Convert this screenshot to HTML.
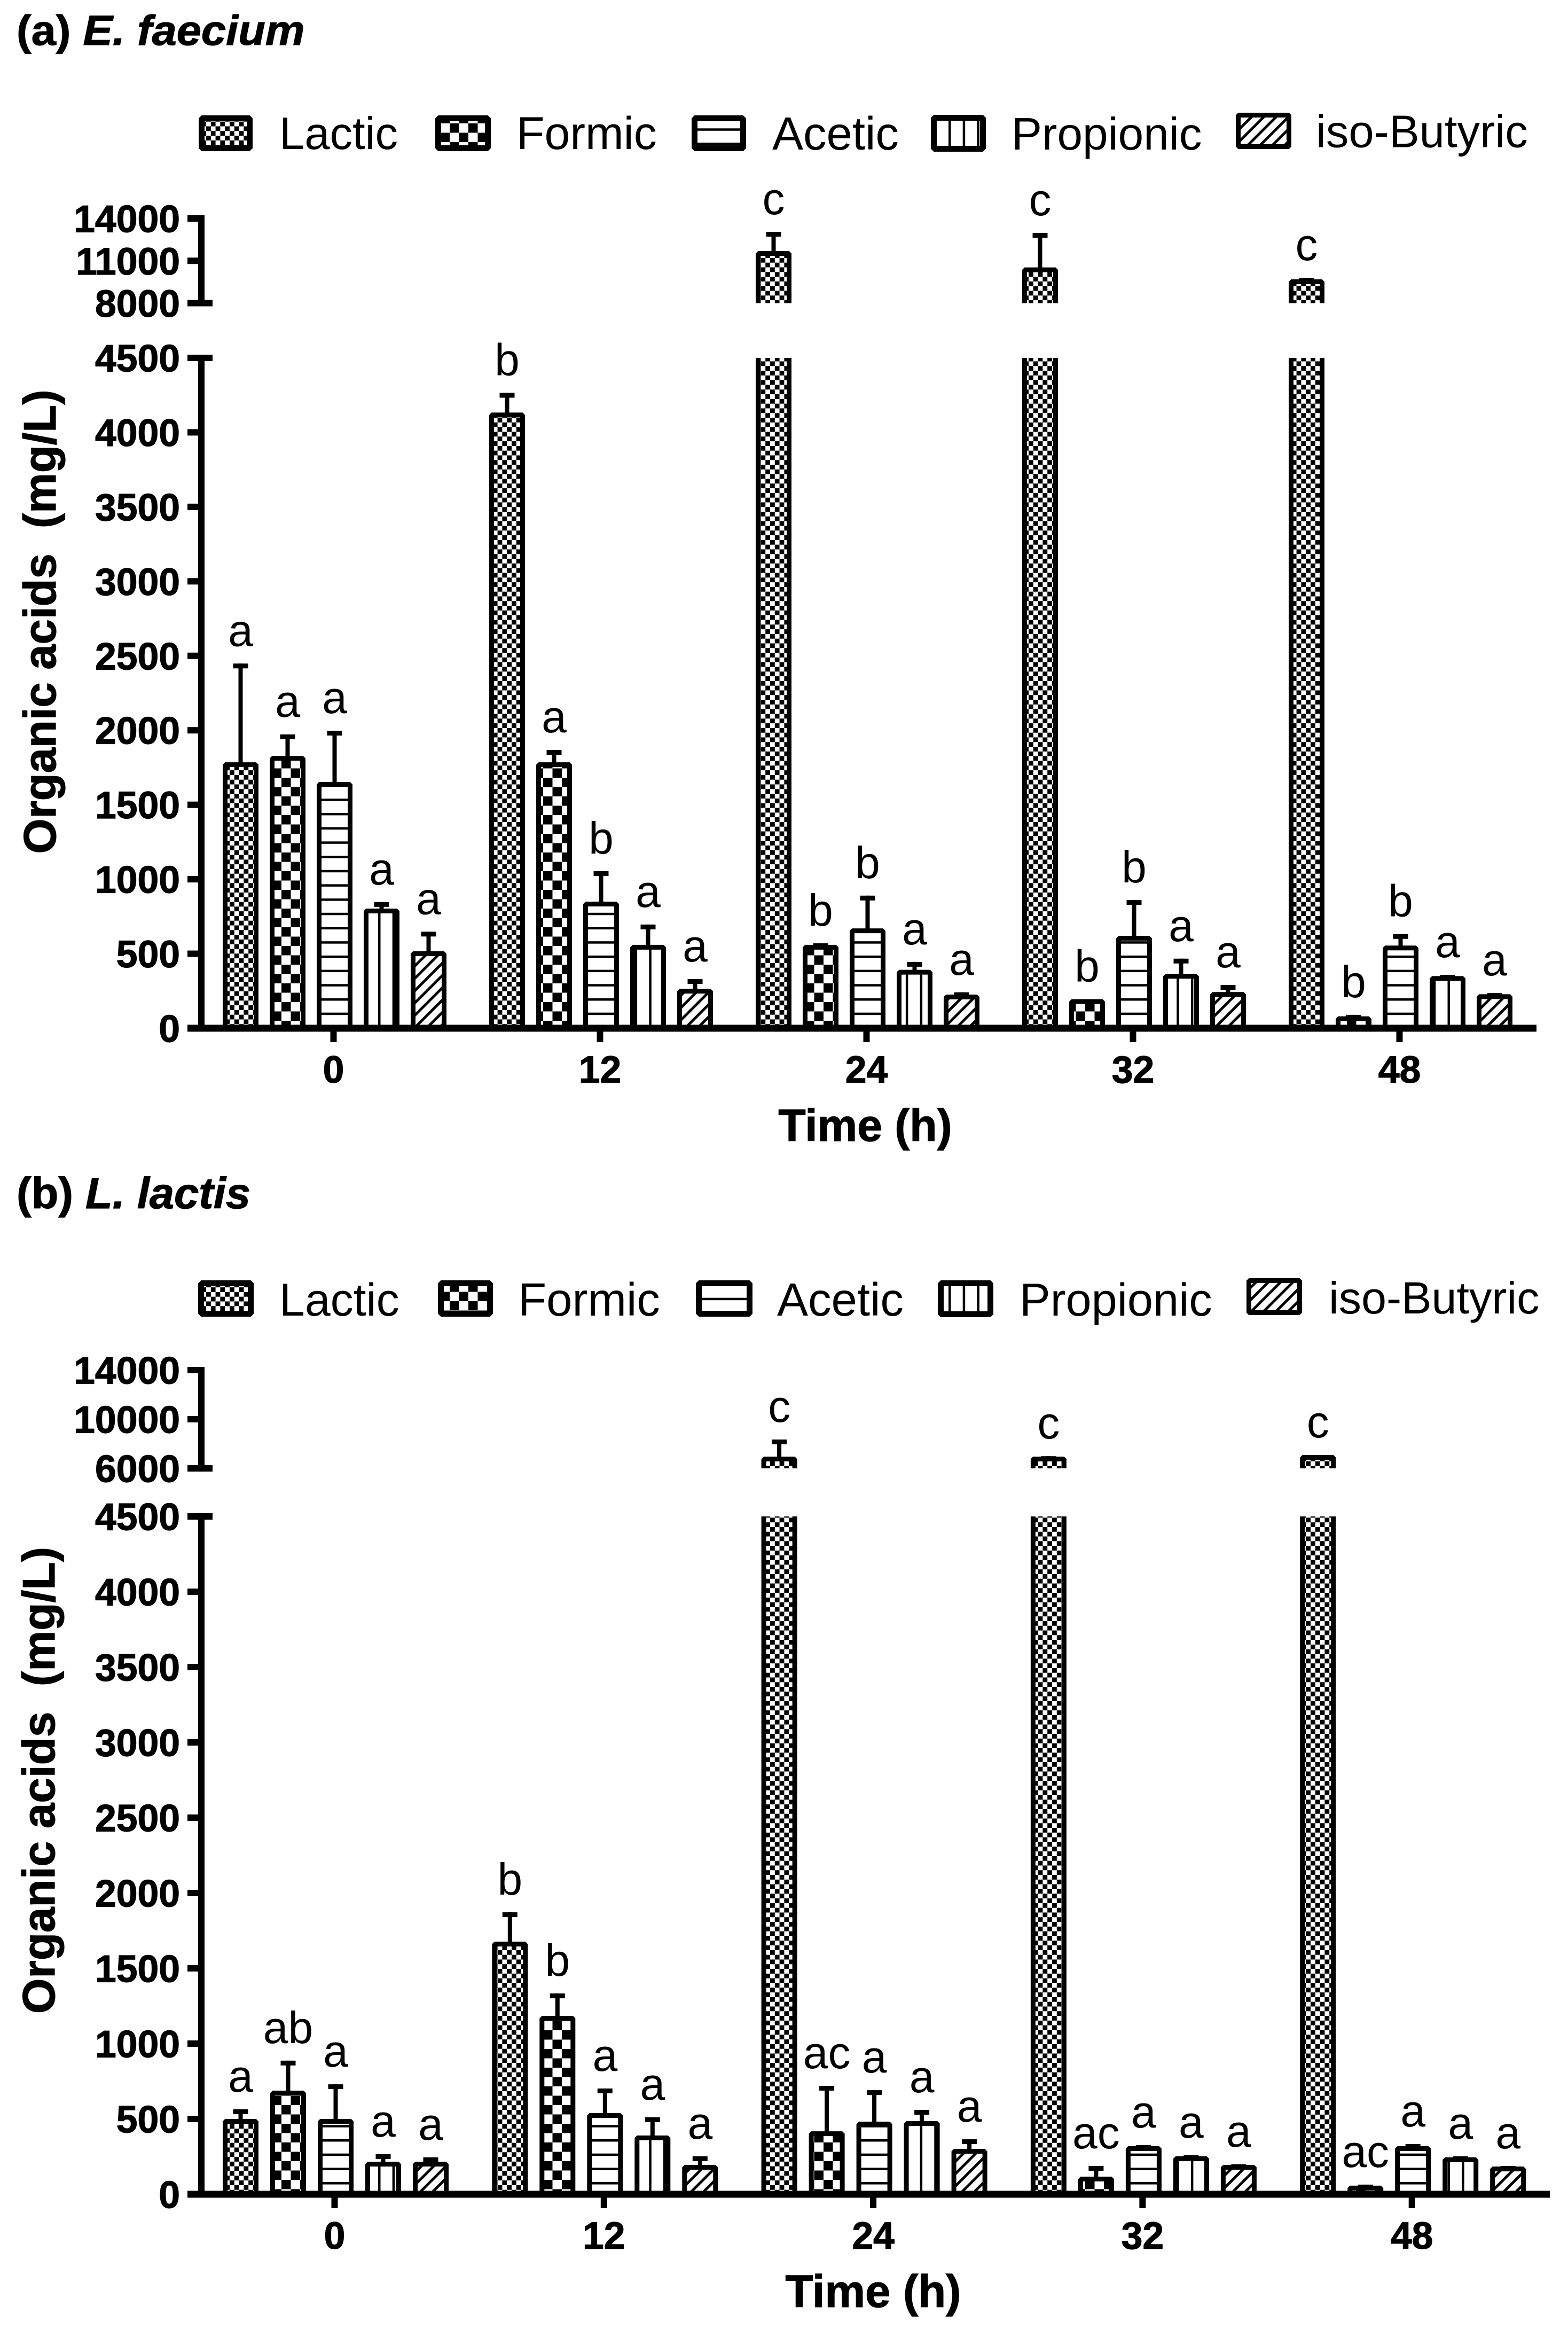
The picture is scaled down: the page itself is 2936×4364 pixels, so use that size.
<!DOCTYPE html>
<html lang="en">
<head>
<meta charset="utf-8">
<title>Organic acids over time: E. faecium and L. lactis</title>
<style>
html,body{margin:0;padding:0;background:#fff;}
svg{display:block;}
text{font-family:"Liberation Sans",Arial,sans-serif;fill:#000;white-space:pre;}
.bold{font-weight:bold;stroke:#000;stroke-width:1.2;}
</style>
</head>
<body>
<svg id="figure" xmlns="http://www.w3.org/2000/svg" width="2936" height="4364" viewBox="0 0 2936 4364">
  <defs>
    <pattern id="pat-lactic" patternUnits="userSpaceOnUse" width="17.6" height="17.6" x="7.6" y="16.5">
      <rect width="17.6" height="17.6" fill="#fff"/>
      <rect width="8.8" height="8.8" fill="#000" shape-rendering="crispEdges"/>
      <rect x="8.8" y="8.8" width="8.8" height="8.8" fill="#000" shape-rendering="crispEdges"/>
    </pattern>
    <pattern id="pat-formic" patternUnits="userSpaceOnUse" width="35" height="35" x="2" y="21">
      <rect width="35" height="35" fill="#fff"/>
      <rect width="17.5" height="17.5" fill="#000" shape-rendering="crispEdges"/>
      <rect x="17.5" y="17.5" width="17.5" height="17.5" fill="#000" shape-rendering="crispEdges"/>
    </pattern>
    <pattern id="pat-acetic" patternUnits="userSpaceOnUse" width="30" height="26.7">
      <rect width="30" height="26.7" fill="#fff"/>
      <rect y="0" width="30" height="4.5" fill="#000"/>
    </pattern>
    <pattern id="pat-propionic" patternUnits="userSpaceOnUse" width="26.7" height="30" x="13.8">
      <rect width="26.7" height="30" fill="#fff"/>
      <rect x="0" width="4.5" height="30" fill="#000"/>
    </pattern>
    <pattern id="pat-isobutyric" patternUnits="userSpaceOnUse" width="16.3" height="16.3" patternTransform="rotate(-45)">
      <rect width="16.3" height="16.3" fill="#fff"/>
      <rect y="0" width="16.3" height="5" fill="#000"/>
    </pattern>
  </defs>

  <g>
    <text class="bold" font-size="83" transform="translate(31,84) scale(1,0.95)">(a) <tspan font-style="italic">E. faecium</tspan></text>
    <g>
      <g>
        <rect x="377.5" y="221.5" width="90" height="56" fill="url(#pat-lactic)" stroke="#000" stroke-width="11" stroke-linejoin="bevel"/>
        <text x="523" y="279" font-size="85">Lactic</text>
      </g>
      <g>
        <rect x="820.5" y="221.5" width="93" height="56" fill="url(#pat-formic)" stroke="#000" stroke-width="11" stroke-linejoin="bevel"/>
        <text x="967" y="279" font-size="86">Formic</text>
      </g>
      <g>
        <rect x="1300.5" y="221.5" width="91" height="56" fill="url(#pat-acetic)" stroke="#000" stroke-width="11" stroke-linejoin="bevel"/>
        <text x="1446" y="280" font-size="87">Acetic</text>
      </g>
      <g>
        <rect x="1748.5" y="220.5" width="92" height="58" fill="url(#pat-propionic)" stroke="#000" stroke-width="11" stroke-linejoin="bevel"/>
        <text x="1894" y="280" font-size="85.5">Propionic</text>
      </g>
      <g>
        <rect x="2318.5" y="215.5" width="95" height="59" fill="url(#pat-isobutyric)" stroke="#000" stroke-width="9" stroke-linejoin="bevel"/>
        <text x="2464" y="275.5" font-size="85">iso-Butyric</text>
      </g>
    </g>
    <text class="bold" font-size="85" transform="translate(104,1164) rotate(-90)" text-anchor="middle" xml:space="preserve">Organic acids  (mg/L)</text>
    <text class="bold" font-size="84" x="1620" y="2136" text-anchor="middle">Time (h)</text>
    <g id="plot-a"></g>
  </g>

  <g>
    <text class="bold" font-size="83" transform="translate(31,2262) scale(1,0.98)">(b) <tspan font-style="italic">L. lactis</tspan></text>
    <g>
      <g>
        <rect x="376.5" y="2402.5" width="93" height="57" fill="url(#pat-lactic)" stroke="#000" stroke-width="11" stroke-linejoin="bevel"/>
        <text x="523" y="2463" font-size="86">Lactic</text>
      </g>
      <g>
        <rect x="825.5" y="2402.5" width="92" height="57" fill="url(#pat-formic)" stroke="#000" stroke-width="11" stroke-linejoin="bevel"/>
        <text x="970" y="2463" font-size="87">Formic</text>
      </g>
      <g>
        <rect x="1308.5" y="2402.5" width="95" height="57" fill="url(#pat-acetic)" stroke="#000" stroke-width="11" stroke-linejoin="bevel"/>
        <text x="1455" y="2463" font-size="87">Acetic</text>
      </g>
      <g>
        <rect x="1761.5" y="2402.5" width="93" height="58" fill="url(#pat-propionic)" stroke="#000" stroke-width="11" stroke-linejoin="bevel"/>
        <text x="1909" y="2463" font-size="86.5">Propionic</text>
      </g>
      <g>
        <rect x="2338.5" y="2397.5" width="95" height="60" fill="url(#pat-isobutyric)" stroke="#000" stroke-width="9" stroke-linejoin="bevel"/>
        <text x="2488" y="2459" font-size="84.5">iso-Butyric</text>
      </g>
    </g>
    <text class="bold" font-size="85.5" transform="translate(102,3333) rotate(-90)" text-anchor="middle" xml:space="preserve">Organic acids  (mg/L)</text>
    <text class="bold" font-size="85" x="1635" y="4319" text-anchor="middle">Time (h)</text>
    <g id="plot-b"></g>
  </g>
</svg>

<script>
// ---- Chart data ----
const categories = ['0', '12', '24', '32', '48'];
const seriesNames = ['lactic', 'formic', 'acetic', 'propionic', 'iso-butyric'];

const lowerTicks = [0, 500, 1000, 1500, 2000, 2500, 3000, 3500, 4000, 4500];
const upperTicksA = [8000, 11000, 14000];
const upperTicksB = [6000, 10000, 14000];

// Panel (a) E. faecium: means, upper error limits, significance letters
const lacticA = [1785, 4133, 11690, 10532, 9684];
const formicA = [1828, 1785, 560, 195, 80];
const aceticA = [1653, 850, 670, 620, 555];
const propionicA = [803, 560, 392, 365, 350];
const isoButyricA = [517, 265, 226, 243, 228];

const lacticErrA = [2448, 4265, 13053, 12977, 9798];
const formicErrA = [1972, 1868, 570, 195, 90];
const aceticErrA = [1997, 1054, 890, 860, 632];
const propionicErrA = [847, 696, 445, 467, 358];
const isoButyricErrA = [648, 330, 241, 290, 236];

const lacticLetA = ['a', 'b', 'c', 'c', 'c'];
const formicLetA = ['a', 'a', 'b', 'b', 'b'];
const aceticLetA = ['a', 'b', 'b', 'b', 'b'];
const propionicLetA = ['a', 'a', 'a', 'a', 'a'];
const isoButyricLetA = ['a', 'a', 'a', 'a', 'a'];

// Panel (b) L. lactis
const lacticB = [500, 1677, 6957, 6957, 7087];
const formicB = [688, 1184, 418, 117, 57];
const aceticB = [500, 539, 482, 319, 319];
const propionicB = [216, 390, 486, 252, 245];
const isoButyricB = [216, 195, 301, 195, 184];

const lacticErrB = [564, 1872, 8348, 6990, 7087];
const formicErrB = [887, 1333, 720, 188, 64];
const aceticErrB = [730, 702, 691, 326, 333];
const propionicErrB = [266, 511, 560, 259, 252];
const isoButyricErrB = [245, 252, 365, 199, 188];

const lacticLetB = ['a', 'b', 'c', 'c', 'c'];
const formicLetB = ['ab', 'b', 'ac', 'ac', 'ac'];
const aceticLetB = ['a', 'a', 'a', 'a', 'a'];
const propionicLetB = ['a', 'a', 'a', 'a', 'a'];
const isoButyricLetB = ['a', 'a', 'a', 'a', 'a'];

// ---- Rendering ----
const SVG_NS = 'http://www.w3.org/2000/svg';
const patternIds = ['pat-lactic', 'pat-formic', 'pat-acetic', 'pat-propionic', 'pat-isobutyric'];

function make(parent, tag, attrs, content) {
  const el = document.createElementNS(SVG_NS, tag);
  for (const k in attrs) el.setAttribute(k, attrs[k]);
  if (content !== undefined) el.textContent = content;
  parent.appendChild(el);
  return el;
}

function drawPanel(cfg) {
  const root = document.getElementById(cfg.rootId);
  const yLower = v => cfg.baseY - (v / 4500) * (cfg.baseY - cfg.lowerTopY);
  const yUpper = v => cfg.upperBottomY - ((v - cfg.upperMin) / (cfg.upperMax - cfg.upperMin)) * (cfg.upperBottomY - cfg.upperTopY);
  const xBar = (g, s) => cfg.firstBarX + g * cfg.groupStep + s * cfg.barStep;
  const barW = 67, sw = 9, capW = 28, errW = 8;

  const clipLowerId = cfg.rootId + '-clip-lower';
  const clipUpperId = cfg.rootId + '-clip-upper';
  const defs = make(root, 'defs', {});
  const cl = make(defs, 'clipPath', {id: clipLowerId});
  make(cl, 'rect', {x: 0, y: cfg.lowerTopY, width: 2936, height: cfg.baseY - cfg.lowerTopY + 4});
  const cu = make(defs, 'clipPath', {id: clipUpperId});
  make(cu, 'rect', {x: 0, y: cfg.upperTopY - 200, width: 2936, height: cfg.upperBottomY - cfg.upperTopY + 200});

  function drawBar(parent, x, topY, bottomY, s, clipId, name) {
    const r = make(parent, 'rect', {
      x: x + sw / 2, y: topY + sw / 2, width: barW - sw, height: bottomY - topY,
      fill: 'url(#' + patternIds[s] + ')', stroke: '#000', 'stroke-width': sw,
      'stroke-linejoin': 'bevel', 'clip-path': 'url(#' + clipId + ')'
    });
    
    
  }

  function drawError(parent, cx, errY, topY, name) {
    const g = make(parent, 'g', {});
    
    
    make(g, 'rect', {x: cx - errW / 2, y: errY, width: errW, height: Math.max(0, topY - errY + 2), fill: '#000'});
    make(g, 'rect', {x: cx - capW / 2, y: errY, width: capW, height: sw, fill: '#000'});
  }

  function drawLetter(parent, cx, errY, letter, name) {
    const t = make(parent, 'text', {x: cx, y: errY - 33, 'font-size': 84, 'text-anchor': 'middle'}, letter);
    
    
  }

  // bars, error bars, significance letters
  cfg.values.forEach((series, s) => {
    const seriesGroup = make(root, 'g', {});
    
    
    series.forEach((v, g) => {
      const x = xBar(g, s), cx = x + barW / 2;
      const e = cfg.errors[s][g], letter = cfg.letters[s][g];
      const label = seriesNames[s] + '-' + categories[g] + 'h';
      if (v <= 4500) {
        drawError(seriesGroup, cx, yLower(e), yLower(v), 'error-bar-' + label);
        drawBar(seriesGroup, x, yLower(v), cfg.baseY, s, clipLowerId, 'bar-' + label);
        drawLetter(seriesGroup, cx, yLower(e), letter, 'letter-' + label);
      } else {
        drawBar(seriesGroup, x, cfg.lowerTopY - 30, cfg.baseY, s, clipLowerId, 'bar-lower-' + label);
        drawError(seriesGroup, cx, yUpper(e), yUpper(v), 'error-bar-' + label);
        drawBar(seriesGroup, x, yUpper(v), cfg.upperBottomY + 30, s, clipUpperId, 'bar-upper-' + label);
        drawLetter(seriesGroup, cx, yUpper(e), letter, 'letter-' + label);
      }
    });
  });

  // y axes
  const tickLeft = 351, axisX = 377, axisW = 12, tickH = 12, capRight = 398;
  function drawYAxis(ticks, yFn, name) {
    const ax = make(root, 'g', {});
    
    
    const topY = yFn(ticks[ticks.length - 1]), bottomY = yFn(ticks[0]);
    make(ax, 'rect', {x: axisX - axisW / 2, y: topY - tickH / 2, width: axisW, height: bottomY - topY + tickH, fill: '#000'});
    ticks.forEach((t, i) => {
      const y = yFn(t);
      make(ax, 'rect', {x: tickLeft, y: y - tickH / 2, width: (i === 0 ? capRight : axisX) - tickLeft, height: tickH, fill: '#000'});
      const lab = make(ax, 'text', {x: 337, y: y + 25.5, 'font-size': 71.5, 'class': 'bold', 'text-anchor': 'end'}, String(t));
      
      
    });
  }
  drawYAxis(cfg.upperTicks, yUpper, 'upper-y-axis');

  const lowerAxis = make(root, 'g', {});
  
  
  make(lowerAxis, 'rect', {x: axisX - axisW / 2, y: cfg.lowerTopY - tickH / 2, width: axisW, height: cfg.baseY - cfg.lowerTopY + tickH, fill: '#000'});
  lowerTicks.forEach(t => {
    const y = yLower(t);
    make(lowerAxis, 'rect', {x: tickLeft, y: y - tickH / 2, width: (t === 4500 ? capRight : axisX) - tickLeft, height: tickH, fill: '#000'});
    const lab = make(lowerAxis, 'text', {x: 337, y: y + 25.5, 'font-size': 71.5, 'class': 'bold', 'text-anchor': 'end'}, String(t));
    
    
  });

  // x axis
  const xAxis = make(root, 'g', {});
  
  
  make(xAxis, 'rect', {x: tickLeft, y: cfg.baseY - 6.5, width: cfg.xAxisEnd - tickLeft, height: 13, fill: '#000'});
  categories.forEach((c, g) => {
    const cx = xBar(g, 2) + barW / 2 - 2;
    make(xAxis, 'rect', {x: cx - 6, y: cfg.baseY, width: 12, height: 26, fill: '#000'});
    const lab = make(xAxis, 'text', {x: cx, y: cfg.xLabelY, 'font-size': 71.5, 'class': 'bold', 'text-anchor': 'middle'}, c);
    
    
  });
}

drawPanel({
  rootId: 'plot-a',
  values: [lacticA, formicA, aceticA, propionicA, isoButyricA],
  errors: [lacticErrA, formicErrA, aceticErrA, propionicErrA, isoButyricErrA],
  letters: [lacticLetA, formicLetA, aceticLetA, propionicLetA, isoButyricLetA],
  upperTicks: upperTicksA,
  upperMin: 8000, upperMax: 14000,
  baseY: 1925, lowerTopY: 670, upperBottomY: 567.5, upperTopY: 409,
  firstBarX: 417, groupStep: 499, barStep: 88,
  xAxisEnd: 2877, xLabelY: 2027
});

drawPanel({
  rootId: 'plot-b',
  values: [lacticB, formicB, aceticB, propionicB, isoButyricB],
  errors: [lacticErrB, formicErrB, aceticErrB, propionicErrB, isoButyricErrB],
  letters: [lacticLetB, formicLetB, aceticLetB, propionicLetB, isoButyricLetB],
  upperTicks: upperTicksB,
  upperMin: 6000, upperMax: 14000,
  baseY: 4108, lowerTopY: 2839, upperBottomY: 2749, upperTopY: 2565,
  firstBarX: 417, groupStep: 504.3, barStep: 89,
  xAxisEnd: 2902, xLabelY: 4210
});
</script>
</body>
</html>
